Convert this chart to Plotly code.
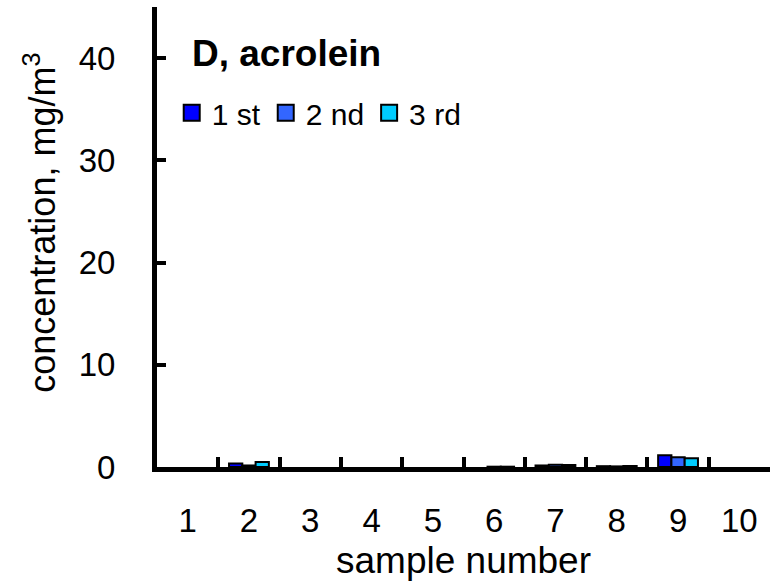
import plotly.graph_objects as go

# Acrolein concentration per sample, three consecutive measurements
# (None = nothing detected, no bar drawn)
samples = ["1", "2", "3", "4", "5", "6", "7", "8", "9", "10"]
first = [None, 0.35, None, None, None, None, 0.15, 0.08, 1.15, None]
second = [None, 0.15, None, None, None, 0.03, 0.22, 0.06, 0.95, None]
third = [None, 0.5, None, None, None, 0.03, 0.2, 0.1, 0.85, None]

series_names = ["1 st", "2 nd", "3 rd"]
series_colors = ["#0000FF", "#3366FF", "#00CCFF"]
y_ticks = [0, 10, 20, 30, 40]

FONT = "Arial, 'Liberation Sans', sans-serif"

fig = go.Figure()
for name, vals, col in zip(series_names, [first, second, third], series_colors):
    fig.add_trace(go.Bar(
        x=samples, y=vals, name=name, showlegend=False,
        marker=dict(color=col, line=dict(color="black", width=2)),
    ))
    # legend entry with a larger square swatch
    fig.add_trace(go.Scatter(
        x=[None], y=[None], name=name, mode="markers",
        marker=dict(symbol="square", size=16, color=col,
                    line=dict(color="black", width=2)),
    ))

fig.update_layout(
    width=774, height=584,
    margin=dict(l=157, r=4, t=7, b=117),
    paper_bgcolor="white", plot_bgcolor="white",
    font=dict(family=FONT, size=33, color="black"),
    barmode="group", bargap=0.35, bargroupgap=0.0,
    showlegend=True,
    legend=dict(orientation="h", x=0.024, xanchor="left", y=0.77, yanchor="middle",
                font=dict(size=30), bgcolor="rgba(0,0,0,0)",
                itemsizing="trace", tracegroupgap=0),
    annotations=[
        dict(text="<b>D, acrolein</b>", xref="paper", yref="paper",
             x=0.054, y=0.898, xanchor="left", yanchor="middle",
             showarrow=False, font=dict(size=37)),
        # axis titles
        dict(text="concentration, mg/m<sup>3</sup>", xref="paper", yref="paper",
             x=-0.19, y=0.53, xanchor="center", yanchor="middle", textangle=-90,
             showarrow=False, font=dict(size=36)),
        dict(text="sample number", xref="paper", yref="paper",
             x=0.5, y=-0.204, xanchor="center", yanchor="middle",
             showarrow=False, font=dict(size=37)),
    ],
)

fig.update_xaxes(
    type="category", categoryorder="array", categoryarray=samples,
    range=[-0.5, 9.5], tickson="boundaries",
    ticks="inside", ticklen=10, tickwidth=4, tickcolor="black",
    showline=True, linewidth=5, linecolor="black",
    showgrid=False, zeroline=False, ticklabelstandoff=20,
)
fig.update_yaxes(
    range=[0, 45], tickvals=y_ticks,
    ticks="inside", ticklen=9, tickwidth=4, tickcolor="black",
    showline=True, linewidth=5, linecolor="black",
    showgrid=False, zeroline=False, ticklabelstandoff=30,
)

fig.write_html("out.html")
